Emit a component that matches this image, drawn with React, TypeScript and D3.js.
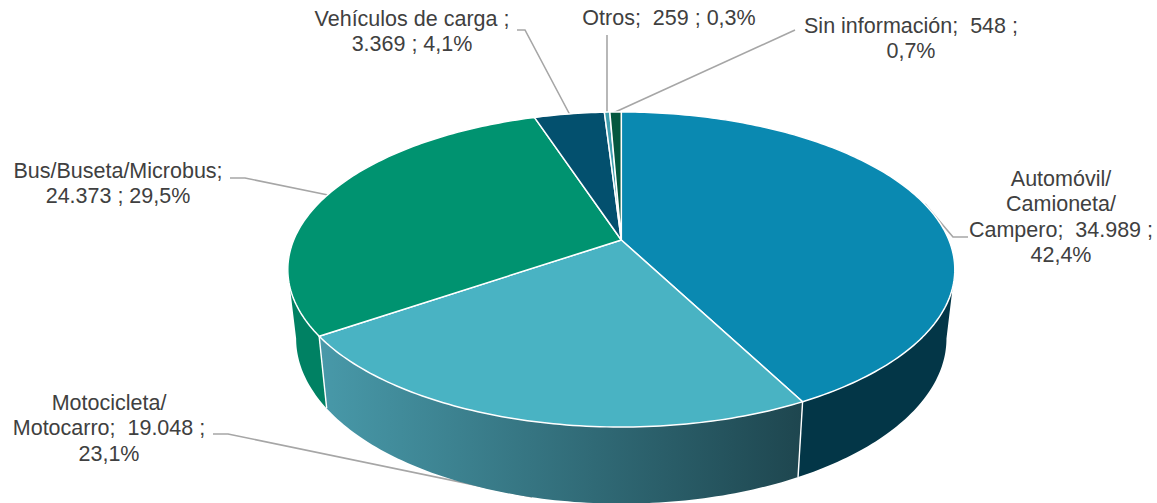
import React from "react";
import * as d3 from "d3";

const categories = ["Automóvil/Camioneta/Campero", "Motocicleta/Motocarro", "Bus/Buseta/Microbus", "Vehículos de carga", "Otros", "Sin información"];
const values = [34989, 19048, 24373, 3369, 259, 548];
const topColors = ["#0A89B1", "#49B3C3", "#009370", "#03506E", "#3F9FAE", "#04573F"];
const wallColors = ["#033647", "url(#motoWall)", "#008163", "#023B50", "#2F7A86", "#033F2E"];
const labelLines = [
  ["Automóvil/", "Camioneta/", "Campero;  34.989 ;", "42,4%"],
  ["Motocicleta/", "Motocarro;  19.048 ;", "23,1%"],
  ["Bus/Buseta/Microbus;", "24.373 ; 29,5%"],
  ["Vehículos de carga ;", "3.369 ; 4,1%"],
  ["Otros;  259 ; 0,3%"],
  ["Sin información;  548 ;", "0,7%"],
];
const labelAnchors: [number, number][] = [
  [1061, 186], [109, 410], [118, 178], [412, 26], [669, 25], [911, 33],
];
const leaders: [number, number][][] = [
  [[968, 237], [953, 237], [925, 204]],
  [[213, 434], [228, 434], [532, 497]],
  [[230, 178], [245, 178], [328, 195]],
  [[517, 30], [525, 30], [570, 115]],
  [[607, 35], [607, 114]],
  [[795, 30], [613, 113]],
];

const W = 1157, H = 503;
const cx = 621.3, apexY = 240;
const c = -0.1873, a = 152, d = 327.6;
const wallScaleX = 0.975, wallScaleY = 1.048, wallApexY = 307.6;

const project = (t: number) => {
  const u = Math.sin(t), v = -Math.cos(t);
  const w = 1 + c * v;
  return { X: (d * u) / w, Y: (a * v) / w };
};
const topPt = (t: number): [number, number] => {
  const p = project(t);
  return [cx + p.X, apexY + p.Y];
};
const botPt = (t: number): [number, number] => {
  const p = project(t);
  return [cx + p.X * wallScaleX, wallApexY + p.Y * wallScaleY];
};
const sample = (t0: number, t1: number) => {
  const n = Math.max(2, Math.ceil(Math.abs(t1 - t0) * 60));
  return d3.range(n + 1).map((i) => t0 + ((t1 - t0) * i) / n);
};

const pieData = d3.pie<number>().sort(null).value((x) => x)(values);
const line = d3.line();
const tanStart = Math.acos(c);
const tanEnd = 2 * Math.PI - tanStart;

export default function App() {
  return (
    <svg width={W} height={H} style={{ position: "absolute", left: 0, top: 0, background: "#fff" }} viewBox={`0 0 ${W} ${H}`}>
      <defs>
        <linearGradient id="motoWall" gradientUnits="userSpaceOnUse" x1={320} x2={802} y1={0} y2={0}>
          <stop offset="0" stopColor="#4899A9" />
          <stop offset="1" stopColor="#1E464F" />
        </linearGradient>
      </defs>
      <g fill="none" stroke="#A6A6A6" strokeWidth={1.6}>
        {leaders.map((l, i) => <path key={i} d={line(l) ?? ""} />)}
      </g>
      <g stroke="#fff" strokeWidth={1.4} strokeLinejoin="round">
        {pieData.map((s, i) => {
          const t0 = Math.max(s.startAngle, tanStart);
          const t1 = Math.min(s.endAngle, tanEnd);
          if (t1 <= t0) return null;
          const ts = sample(t0, t1);
          const poly = [...ts.map(topPt), ...ts.slice().reverse().map(botPt)];
          return <path key={categories[i]} d={(line(poly) ?? "") + "Z"} fill={wallColors[i]} stroke="none" />;
        })}
        {pieData.slice(1, 3).map((s) => (
          <path key={s.index} d={line([topPt(s.startAngle), botPt(s.startAngle)]) ?? ""} fill="none" />
        ))}
      </g>
      <g stroke="#fff" strokeWidth={1.5} strokeLinejoin="round">
        {pieData.map((s, i) => {
          const ts = sample(s.startAngle, s.endAngle);
          const poly: [number, number][] = [[cx, apexY], ...ts.map(topPt)];
          return <path key={categories[i]} d={(line(poly) ?? "") + "Z"} fill={topColors[i]} />;
        })}
      </g>
      <g fontFamily="'Liberation Sans', Arial, sans-serif" fontSize={21.5} fill="#404040" textAnchor="middle">
        {labelLines.map((ls, i) => (
          <text key={i} x={labelAnchors[i][0]} y={labelAnchors[i][1]}>
            {ls.map((t, j) => (
              <tspan key={j} x={labelAnchors[i][0]} dy={j === 0 ? 0 : 25.3} style={{ whiteSpace: "pre" }}>{t}</tspan>
            ))}
          </text>
        ))}
      </g>
    </svg>
  );
}
